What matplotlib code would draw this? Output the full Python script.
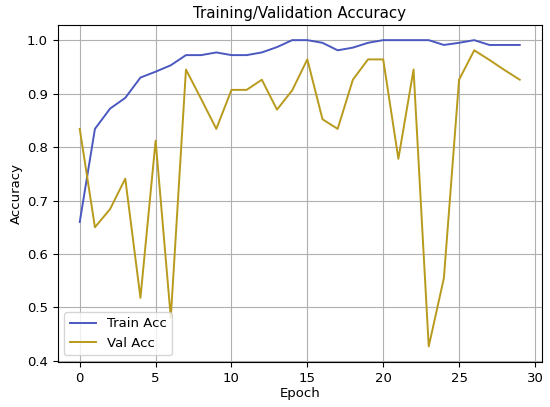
import matplotlib
matplotlib.use("Agg")
import matplotlib.pyplot as plt

# values
epochs = list(range(30))
train_acc = [0.66, 0.834, 0.872, 0.892, 0.93, 0.941, 0.953, 0.972, 0.972, 0.977,
             0.972, 0.972, 0.977, 0.987, 1.0, 1.0, 0.995, 0.981, 0.986, 0.995,
             1.0, 1.0, 1.0, 1.0, 0.991, 0.995, 1.0, 0.991, 0.991, 0.991]
val_acc = [0.834, 0.65, 0.684, 0.741, 0.518, 0.812, 0.481, 0.945, 0.89, 0.834,
           0.907, 0.907, 0.926, 0.87, 0.906, 0.964, 0.852, 0.834, 0.926, 0.964,
           0.964, 0.778, 0.945, 0.427, 0.555, 0.926, 0.981, 0.963, 0.944, 0.926]

plt.rcParams['font.size'] = 9.5

fig = plt.figure(figsize=(5.5, 4.07), dpi=100)
ax = fig.add_axes([0.105, 0.111, 0.88, 0.828])

ax.plot(epochs, train_acc, color='#4b58c0', linewidth=1.4, label='Train Acc')
ax.plot(epochs, val_acc, color='#b89a1c', linewidth=1.4, label='Val Acc')

ax.set_title('Training/Validation Accuracy', fontsize=10.8, pad=5)
ax.set_xlabel('Epoch', labelpad=2)
ax.set_ylabel('Accuracy', labelpad=3)
ax.grid(True, color='#b0b0b0', linewidth=0.8)
ax.legend(loc='lower left')

fig.savefig('out.png', dpi=100)
